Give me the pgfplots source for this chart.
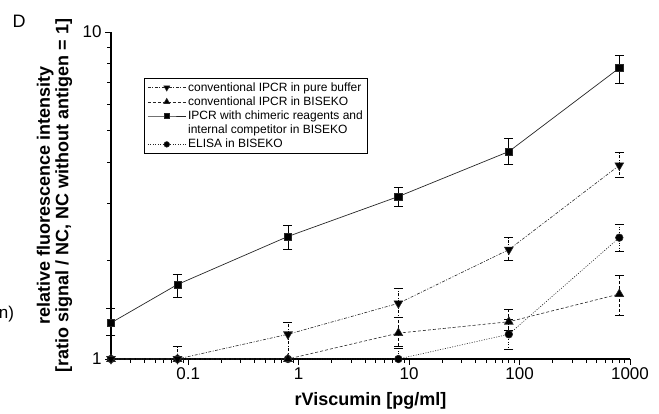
\documentclass[border=0pt]{standalone}
\usepackage{pgfplots}
\usepackage{pgfplotstable}
\pgfplotsset{compat=1.18}
\usepackage{fontspec}
\setmainfont{Liberation Sans}

\pgfplotstableread{
x y ep em
0.02 1.29 0.14 0.11
0.08 1.69 0.13 0.15
0.8 2.37 0.19 0.20
8 3.14 0.21 0.20
80 4.31 0.42 0.37
800 7.76 0.74 0.78
}\sqdata
\pgfplotstableread{
x y ep em
0.02 1 0 0
0.08 1 0.09 0
0.8 1.19 0.10 0.19
8 1.48 0.17 0.14
80 2.16 0.19 0.16
800 3.91 0.37 0.32
}\tddata
\pgfplotstableread{
x y ep em
0.02 1 0 0
0.08 1 0 0
0.8 1 0 0
8 1.20 0.14 0.11
80 1.30 0.12 0.08
800 1.58 0.22 0.22
}\tudata
\pgfplotstableread{
x y ep em
0.02 1 0 0
0.08 1 0 0
0.8 1 0 0
8 1 0.08 0
80 1.19 0.13 0.12
800 2.35 0.24 0.21
}\cidata

\begin{document}
\begin{tikzpicture}[x=1pt,y=1pt]
\useasboundingbox (0,0) rectangle (659,413);
\node[font=\fontsize{18}{21}\selectfont] at (19,391.5) {D};
\node[font=\fontsize{17}{19}\selectfont] at (6.5,99) {n)};
\begin{axis}[
  at={(111pt,54pt)}, anchor=south west,
  scale only axis, width=519pt, height=327pt,
  xmode=log, ymode=log,
  xmin=0.02, xmax=1000, ymin=1, ymax=10,
  axis lines*=left,
  axis line style={line width=1.3pt,-},
  tick align=outside,
  major tick length=6pt, minor tick length=4pt,
  tick style={black, line width=0.9pt},
  xtick={0.1,1,10,100,1000}, xticklabels={0.1,1,10,100,1000},
  minor xtick={0.02,0.03,0.04,0.05,0.06,0.07,0.08,0.09,0.2,0.3,0.4,0.5,0.6,0.7,0.8,0.9,2,3,4,5,6,7,8,9,20,30,40,50,60,70,80,90,200,300,400,500,600,700,800,900},
  ytick={1,10}, yticklabels={1,10},
  minor ytick={2,3,4,5,6,7,8,9},
  ticklabel style={font=\fontsize{17}{20}\selectfont},
  xticklabel style={yshift=1pt},
  xlabel={rViscumin [pg/ml]},
  xlabel style={at={(axis description cs:0.5,0)}, anchor=base, yshift=-46pt, font=\bfseries\fontsize{18}{20}\selectfont},
  ylabel={relative fluorescence intensity\\{}[ratio signal / NC, NC without antigen = 1]},
  ylabel style={at={(axis description cs:-0.109,0.5)}, anchor=center, font=\bfseries\fontsize{18}{18.5}\selectfont, align=center},
  clip=false,
  legend style={at={(0.0636,0.859)}, anchor=north west, draw=black, line width=0.8pt,
    font=\fontsize{12}{13.5}\selectfont, cells={anchor=west}, row sep=0pt,
    inner xsep=3pt, inner ysep=2pt},
  legend image code/.code={\draw[mark repeat=2,mark phase=2] plot coordinates {(0pt,0pt) (19pt,0pt) (38pt,0pt)};},
  error bars/y dir=both, error bars/y explicit,
  error bars/error bar style={line width=0.7pt, black},
  error bars/error mark options={rotate=90, mark size=4.5pt, line width=0.7pt, black},
]
\addplot[forget plot, black!85, line width=0.6pt, dash pattern=on 1pt off 1.5pt, mark=*, mark size=3.8pt, mark options={solid, fill=black}]
  table[x=x, y=y, y error plus=ep, y error minus=em] {\cidata};
\addplot[forget plot, black!85, line width=0.6pt, dash pattern=on 3pt off 2pt, mark=triangle*, mark size=5pt, mark options={solid, fill=black}]
  table[x=x, y=y, y error plus=ep, y error minus=em] {\tudata};
\addplot[forget plot, black!85, line width=0.6pt, dash pattern=on 3pt off 1.5pt on 1pt off 1.5pt, mark=triangle*, mark size=5pt, mark options={solid, fill=black, rotate=180}]
  table[x=x, y=y, y error plus=ep, y error minus=em] {\tddata};
\addplot[forget plot, black!85, line width=0.7pt, mark=square*, mark size=3.6pt, mark options={solid, fill=black}]
  table[x=x, y=y, y error plus=ep, y error minus=em] {\sqdata};

\addlegendimage{black!85, line width=0.6pt, dash pattern=on 3pt off 1.5pt on 1pt off 1.5pt, mark=triangle*, mark size=3.4pt, mark options={solid, fill=black, rotate=180}}
\addlegendimage{black!85, line width=0.6pt, dash pattern=on 3pt off 2pt, mark=triangle*, mark size=3.4pt, mark options={solid, fill=black}}
\addlegendimage{black!85, line width=0.7pt, mark=square*, mark size=2.4pt, mark options={solid, fill=black}}
\addlegendimage{empty legend}
\addlegendimage{black!85, line width=0.6pt, dash pattern=on 1pt off 1.5pt, mark=*, mark size=2.8pt, mark options={solid, fill=black}}
\legend{conventional IPCR in pure buffer, conventional IPCR in BISEKO, IPCR with chimeric reagents and, internal competitor in BISEKO, ELISA in BISEKO}
\end{axis}
\end{tikzpicture}
\end{document}
